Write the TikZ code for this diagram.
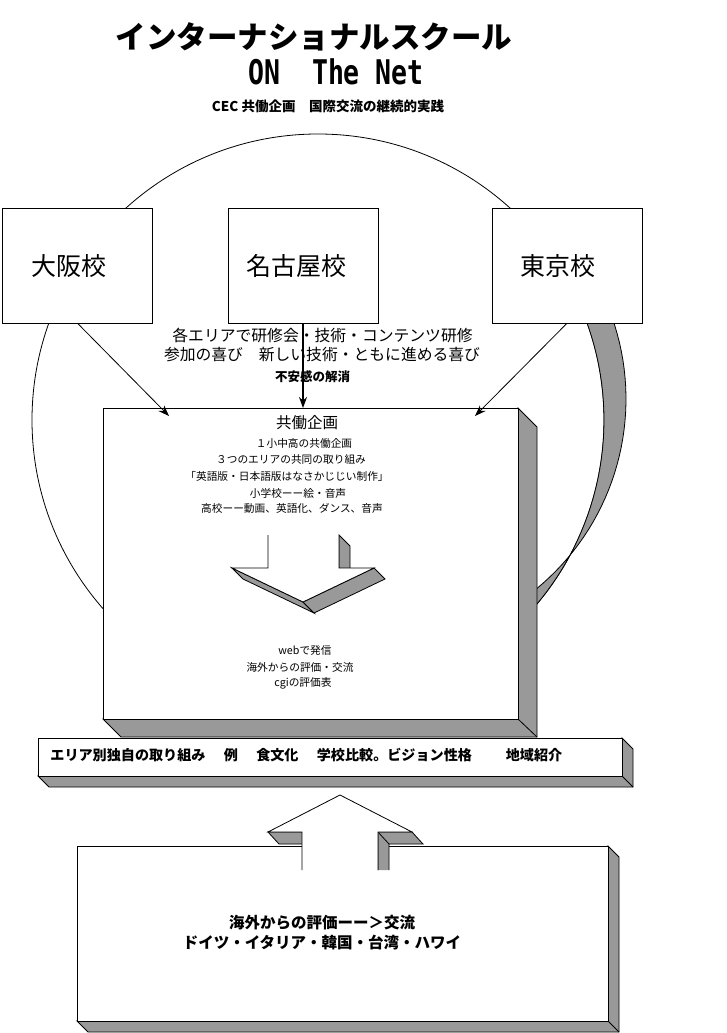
\documentclass[tikz,border=0pt]{standalone}
\usepackage{fontspec}
\setmainfont{Noto Sans CJK JP}
\newfontfamily\monofont{DejaVu Sans Mono}
\usetikzlibrary{arrows.meta}
\definecolor{sidegray}{RGB}{153,153,153}

\begin{document}
\begin{tikzpicture}
  [x=1pt,y=-1pt,line width=0.8pt,
   school/.style={rectangle,draw=black,fill=white,inner sep=0,outer sep=0,
                  minimum width=150pt,minimum height=115pt},
   panel/.style={rectangle,draw=black,fill=white,inner sep=0,outer sep=0},
   side/.style={fill=sidegray,draw=black},
   big/.style={font=\fontsize{25}{28}\selectfont},
   note/.style={inner sep=0,font=\fontsize{15.8}{18}\selectfont},
   small/.style={inner sep=0,font=\fontsize{10.7}{12}\selectfont},
   heavy/.style={inner sep=0,font=\bfseries\fontsize{12.5}{14}\selectfont},
   >={Stealth[length=11pt,width=8pt]}]
  \useasboundingbox (0,0) rectangle (727,1033);
  % title
  \node[inner sep=0,font=\bfseries\fontsize{30.5}{34}\selectfont] (title) at (314,37) {インターナショナルスクール};
  \node[inner sep=0,font=\monofont\bfseries\fontsize{34}{38}\selectfont,xscale=0.78] (subtitle) at (336,72) {ON\ \ The\ Net};
  \node[heavy,font=\bfseries\fontsize{13.5}{15}\selectfont] (motto) at (328,106) {CEC 共働企画　国際交流の継続的実践};
  % ring with the shaded rim on the right
  \draw (318,420) circle[radius=286pt];
  \draw[side] plot[domain=-30:44,samples=40] ({318+286*cos(\x)},{420+286*sin(\x)})
     -- plot[domain=50.5:-29.7,samples=40] ({380+246*cos(\x)},{399+246*sin(\x)}) -- cycle;
  % schools
  \node[school] (osaka) at (77.5,265.75) {};
  \node[school] (nagoya) at (303,265.75) {};
  \node[school] (tokyo) at (567,265.75) {};
  \node[big] at ([xshift=-9pt]osaka.center) {大阪校};
  \node[big] at ([xshift=-7pt]nagoya.center) {名古屋校};
  \node[big] at ([xshift=-9pt]tokyo.center) {東京校};
  \node[note] (study) at (322.5,335) {各エリアで研修会・技術・コンテンツ研修};
  \node[note] (joy) at (322,355) {参加の喜び　新しい技術・ともに進める喜び};
  \node[heavy] (ease) at (312.5,377) {不安感の解消};
  % joint project
  \draw[side] (518,408) -- (537,427) -- (537,737) -- (121,737) -- (103,719) -- (518,719) -- cycle;
  \node[panel,minimum width=415pt,minimum height=311pt] (plan) at (310.5,563.5) {};
  \draw (plan.south east) -- ++(19,18);
  \node[inner sep=0,font=\fontsize{15.5}{18}\selectfont] (planhead) at (307,423) {共働企画};
  \node[small] (plan1) at (304,443) {１小中高の共働企画};
  \node[small] (plan2) at (291,459) {３つのエリアの共同の取り組み};
  \node[small] (plan3) at (287,476) {「英語版・日本語版はなさかじじい制作」};
  \node[small] (plan4) at (298,493) {小学校ーー絵・音声};
  \node[small] (plan5) at (292,508) {高校ーー動画、英語化、ダンス、音声};
  \draw[side] (339,535) -- (350,546) -- (350,579) -- (339,568) -- cycle;
  \draw[side] (232,568) -- (303,602) -- (314,613) -- (243,579) -- cycle;
  \draw[side] (303,602) -- (374,568) -- (385,579) -- (314,613) -- cycle;
  \fill[white] (268,535) -- (268,568) -- (232,568) -- (303,602) -- (374,568) -- (339,568) -- (339,535) -- cycle;
  \draw (268,535) -- (268,568) -- (232,568) -- (303,602) -- (374,568) -- (339,568) -- (339,535);
  \node[small] (web1) at (305,650) {webで発信};
  \node[small] (web2) at (300,667) {海外からの評価・交流};
  \node[small] (web3) at (303,683) {cgiの評価表};
  % arrows into the project
  \coordinate (osakatip) at (169,416);
  \coordinate (tokyotip) at (475,416);
  \draw[->] (osaka.south) -- (osakatip);
  \draw[->] (tokyo.south) -- (tokyotip);
  \draw[line width=1.6pt,->] (nagoya.south) -- (nagoya.south |- plan.north);
  % banner
  \draw[side] (622,738) -- (633,749) -- (633,787) -- (49,787) -- (38,776) -- (622,776) -- cycle;
  \node[panel,minimum width=584pt,minimum height=38pt] (banner) at (330,757) {};
  \draw (banner.south east) -- ++(11,11);
  \node[inner sep=0,anchor=west,font=\bfseries\fontsize{14.1}{16}\selectfont] (bannertext) at (50,755)
    {エリア別独自の取り組み\hspace{1.3em}例\hspace{1.3em}食文化\hspace{1.3em}学校比較。ビジョン性格\hspace{2.4em}地域紹介};
  % overseas
  \draw[side] (608,846) -- (619,857) -- (619,1032) -- (88,1032) -- (77,1021) -- (608,1021) -- cycle;
  \node[panel,minimum width=531pt,minimum height=175pt] (abroad) at (342.5,933.5) {};
  \draw (abroad.south east) -- ++(11,11);
  \draw[side] (268,832) -- (302,832) -- (312,844) -- (279,844) -- cycle;
  \draw[side] (378,870) -- (378,832) -- (412,832) -- (423,844) -- (389,844) -- (389,870);
  \draw (378,832) -- (389,844);
  \fill[white] (302,870) -- (302,832) -- (268,832) -- (340,795) -- (412,832) -- (378,832) -- (378,870) -- cycle;
  \draw (302,870) -- (302,832) -- (268,832) -- (340,795) -- (412,832) -- (378,832) -- (378,870);
  \node[inner sep=0,font=\bfseries\fontsize{15.5}{18}\selectfont] (abroad1) at (322,923) {海外からの評価ーー＞交流};
  \node[inner sep=0,font=\bfseries\fontsize{15.5}{18}\selectfont] (abroad2) at (322,943) {ドイツ・イタリア・韓国・台湾・ハワイ};
\end{tikzpicture}
\end{document}
